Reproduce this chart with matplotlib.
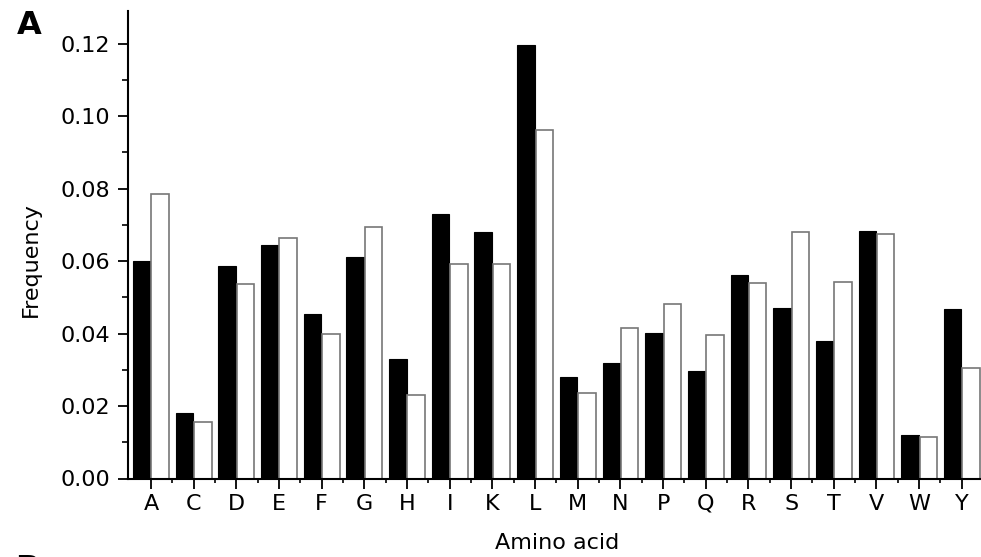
import matplotlib.pyplot as plt
import numpy as np
from matplotlib.ticker import MultipleLocator

amino_acids = ['A', 'C', 'D', 'E', 'F', 'G', 'H', 'I', 'K', 'L',
               'M', 'N', 'P', 'Q', 'R', 'S', 'T', 'V', 'W', 'Y']
black_freq = [0.0600, 0.0182, 0.0587, 0.0643, 0.0455, 0.0610, 0.0331, 0.0730, 0.0680, 0.1197,
              0.0279, 0.0319, 0.0402, 0.0298, 0.0562, 0.0471, 0.0380, 0.0684, 0.0120, 0.0468]
white_freq = [0.0785, 0.0155, 0.0537, 0.0665, 0.0399, 0.0693, 0.0230, 0.0593, 0.0593, 0.0962,
              0.0236, 0.0415, 0.0481, 0.0395, 0.0539, 0.0680, 0.0541, 0.0675, 0.0114, 0.0305]

plt.rcParams['font.family'] = ['DejaVu Sans']

fig = plt.figure(figsize=(9.81, 5.57), dpi=100)
ax = fig.add_axes([128 / 981, 78.5 / 557, 1 - 128 / 981, 467.5 / 557])

x = np.arange(len(amino_acids))
w = 0.41
ax.bar(x - w / 2 - 0.01, black_freq, w, color='black', edgecolor='black', linewidth=0.8)
ax.bar(x + w / 2 + 0.01, white_freq, w, color='white', edgecolor='#777777', linewidth=1.2)

ax.set_xlim(-0.54, 19.45)
ax.set_ylim(0, 0.129)
ax.set_xticks(x)
ax.set_xticklabels(amino_acids)
ax.set_xticks(x[:-1] + 0.5, minor=True)
ax.yaxis.set_major_locator(MultipleLocator(0.02))
ax.yaxis.set_minor_locator(MultipleLocator(0.01))
ax.yaxis.set_major_formatter(plt.FuncFormatter(lambda v, p: f'{v:.2f}'))

for s in ['top', 'right']:
    ax.spines[s].set_visible(False)
ax.spines['left'].set_linewidth(1.5)
ax.spines['bottom'].set_linewidth(1.5)

ax.tick_params(axis='both', which='major', labelsize=16, width=1.3, direction='out', length=7, pad=6)
ax.tick_params(axis='both', which='minor', width=1.2, direction='out', length=4)
ax.tick_params(axis='x', which='minor', length=3)
ax.tick_params(axis='x', which='major', pad=4)

fig.text(557 / 981, 1 - 543 / 557, 'Amino acid', fontsize=16, ha='center', va='center')
fig.text(31 / 981, 1 - 260 / 557, 'Frequency', fontsize=16, ha='center', va='center',
         rotation=90)

fig.text(29 / 981, 1 - 25 / 557, 'A', fontsize=23, fontweight='bold', va='center', ha='center')
fig.text(15 / 981, 3 / 557, 'B', fontsize=23, fontweight='bold', va='top', ha='left')

fig.savefig('out.png', dpi=100)
